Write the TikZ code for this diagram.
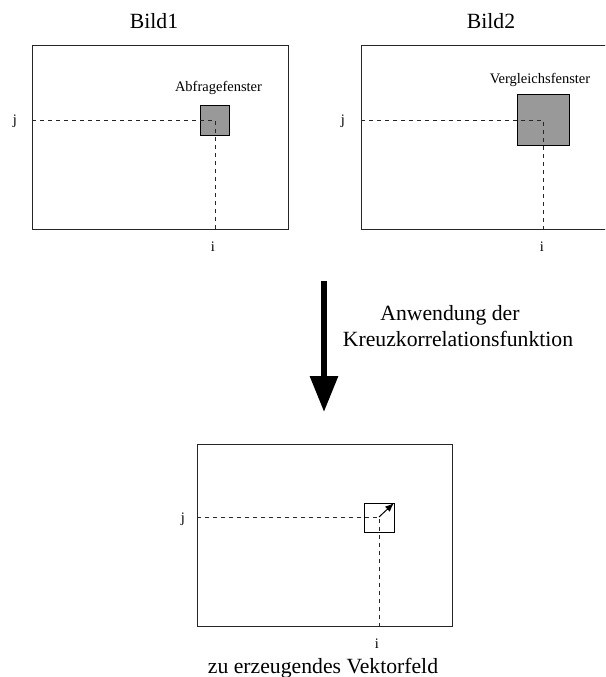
\documentclass[tikz,border=0pt]{standalone}
\usepackage{fontspec}
\setmainfont{Liberation Serif}
\usetikzlibrary{arrows.meta}
\begin{document}
\begin{tikzpicture}[x=1pt,y=-1pt,
  frame/.style={draw=black!85,line width=1pt,inner sep=0pt,outer sep=0pt},
  win/.style={draw=black,line width=0.9pt,inner sep=0pt,outer sep=0pt},
  guide/.style={draw=black!85,line width=0.8pt,dash pattern=on 4pt off 4pt},
  big/.style={font=\fontsize{21.7}{25}\selectfont,inner sep=0pt,anchor=base},
  small/.style={font=\fontsize{14.5}{17}\selectfont,inner sep=0pt,anchor=base}]
\clip (0,0) rectangle (605,677);
\useasboundingbox (0,0) rectangle (605,677);
% titles
\node[big] (t1) at (154,29) {Bild1};
\node[big] (t2) at (491,29) {Bild2};
% frames
\node[frame,minimum width=256pt,minimum height=183pt] (b1) at (160,137.5) {};
\node[frame,minimum width=256pt,minimum height=183pt] (b2) at (489,137.5) {};
\node[frame,minimum width=255pt,minimum height=182pt] (b3) at (324.5,535) {};
% windows
\node[win,fill=black!40,minimum width=29pt,minimum height=30pt] (s1) at (214.5,120) {};
\node[win,fill=black!40,minimum width=52pt,minimum height=51pt] (s2) at (543,119.5) {};
\node[win,fill=white,minimum width=30pt,minimum height=29pt] (s3) at (379,517.5) {};
\coordinate (c1) at (215,120);
\coordinate (c2) at (543,120);
\coordinate (c3) at (379,517);
% guides
\draw[guide] (b1.west |- c1) -- (c1) -- (c1 |- b1.south);
\draw[guide] (b2.west |- c2) -- (c2) -- (c2 |- b2.south);
\draw[guide] (b3.west |- c3) -- (c3) -- (c3 |- b3.south);
% labels
\node[small] (w1) at (218.5,92) {Abfragefenster};
\node[small] (w2) at (540,84) {Vergleichsfenster};
\node[small] (j1) at (15,124) {j};
\node[small] (i1) at (213,251) {i};
\node[small] (j2) at (343,124) {j};
\node[small] (i2) at (542,251) {i};
\node[small] (j3) at (183,522) {j};
\node[small] (i3) at (377,648) {i};
% vector
\draw[line width=1pt,-{Latex[length=9pt,width=7pt]}] (c3) -- (s3.north east);
% big arrow
\coordinate (a1) at (324,281);
\coordinate (a2) at (324,412);
\draw[line width=6pt,-{Triangle[length=36pt,width=27pt]}] (a1) -- (a2);
\node[big] (l1) at (450,320) {Anwendung der};
\node[big] (l2) at (458,346) {Kreuzkorrelationsfunktion};
\node[big] (l3) at (323,673) {zu erzeugendes Vektorfeld};
\end{tikzpicture}
\end{document}
